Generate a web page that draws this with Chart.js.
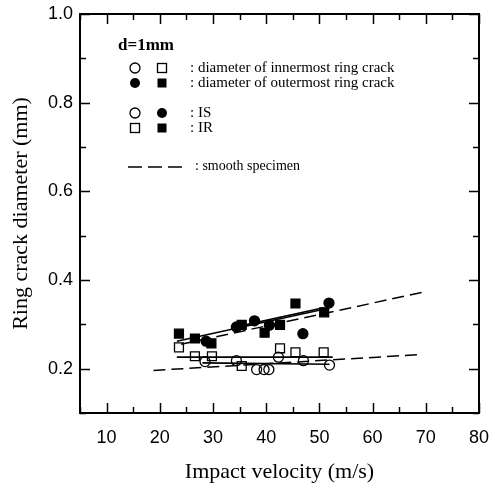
<!DOCTYPE html>
<html>
<head>
<meta charset="utf-8">
<script src="https://cdn.jsdelivr.net/npm/chart.js@4.4.0/dist/chart.umd.min.js"></script>
<style>
  body { margin: 0; background: #fff; }
  #wrap { width: 491px; height: 487px; }
</style>
</head>
<body>
<div id="wrap"><canvas id="ringChart" width="491" height="487"></canvas></div>
<script>
// IS specimen, outermost ring crack (filled circles)
const isOuterV = [28.7, 34.4, 37.8, 40.6, 46.9, 51.8];
const isOuterD = [0.262, 0.294, 0.308, 0.298, 0.279, 0.348];
// IR specimen, outermost ring crack (filled squares)
const irOuterV = [23.6, 26.6, 29.7, 35.4, 39.7, 42.6, 45.5, 50.9];
const irOuterD = [0.279, 0.268, 0.257, 0.299, 0.281, 0.299, 0.347, 0.327];
// IS specimen, innermost ring crack (open circles)
const isInnerV = [28.5, 34.4, 38.2, 39.6, 40.5, 42.3, 47.0, 51.9];
const isInnerD = [0.216, 0.218, 0.198, 0.198, 0.198, 0.226, 0.218, 0.208];
// IR specimen, innermost ring crack (open squares)
const irInnerV = [23.6, 26.6, 29.8, 35.4, 42.6, 45.5, 50.8];
const irInnerD = [0.248, 0.228, 0.228, 0.206, 0.246, 0.237, 0.237];

// fitted lines (end points)
const fitOuterAV = [23.2, 50.8], fitOuterAD = [0.262, 0.334];
const fitOuterBV = [33.5, 51.0], fitOuterBD = [0.292, 0.338];
const fitInnerAV = [23.2, 52.5], fitInnerAD = [0.226, 0.226];
const fitInnerBV = [28.0, 51.9], fitInnerBD = [0.213, 0.210];
// smooth specimen (dashed)
const smoothOuterV = [24.0, 69.3], smoothOuterD = [0.255, 0.372];
const smoothInnerV = [18.8, 69.3], smoothInnerD = [0.196, 0.232];

// axis ticks
const xMajor = [10, 20, 30, 40, 50, 60, 70, 80];
const xMinor = [5, 15, 25, 35, 45, 55, 65, 75];
const yMajor = [0.2, 0.4, 0.6, 0.8, 1.0];
const yMinor = [0.1, 0.3, 0.5, 0.7, 0.9];

const SERIF = "'Liberation Serif', 'Times New Roman', serif";
const SANS = "'Liberation Sans', Arial, sans-serif";

function pts(xs, ys) {
    return xs.map((v, i) => ({ x: v, y: ys[i] }));
}

function markers(xs, ys, style, filled, r) {
    return {
        data: pts(xs, ys),
        showLine: false,
        pointStyle: style,
        pointRadius: r,
        pointBackgroundColor: filled ? '#000' : 'rgba(0,0,0,0)',
        pointBorderColor: '#000',
        pointBorderWidth: 1.3,
        order: 1
    };
}

function line(xs, ys, dashed) {
    return {
        data: pts(xs, ys),
        showLine: true,
        pointRadius: 0,
        borderColor: '#000',
        borderWidth: dashed ? 1.5 : 1.6,
        borderDash: dashed ? [12, 6] : [],
        fill: false,
        order: 2
    };
}

// ---------- frame + inward ticks ----------
const frameTicks = {
    id: 'frameTicks',
    afterDatasetsDraw(chart) {
        const { ctx, chartArea: a, scales: { x, y } } = chart;
        ctx.save();
        ctx.strokeStyle = '#000';
        ctx.lineWidth = 1.5;
        const seg = (x1, y1, x2, y2) => {
            ctx.beginPath(); ctx.moveTo(x1, y1); ctx.lineTo(x2, y2); ctx.stroke();
        };
        const xt = (vals, len) => vals.forEach(v => {
            const px = Math.round(x.getPixelForValue(v)) + 0.5;
            seg(px, a.bottom, px, a.bottom - len);
            seg(px, a.top, px, a.top + len);
        });
        const yt = (vals, len) => vals.forEach(v => {
            const py = Math.round(y.getPixelForValue(v)) + 0.5;
            seg(a.left, py, a.left + len, py);
            seg(a.right, py, a.right - len, py);
        });
        xt(xMajor, 10); xt(xMinor, 6);
        yt(yMajor, 10); yt(yMinor, 6);
        ctx.lineWidth = 2;
        ctx.strokeRect(a.left, a.top, a.right - a.left, a.bottom - a.top);
        ctx.restore();
    }
};

// ---------- key inside the plot ----------
const keyBox = {
    id: 'keyBox',
    afterDraw(chart) {
        const ctx = chart.ctx;
        ctx.save();
        ctx.fillStyle = '#000';
        ctx.strokeStyle = '#000';
        ctx.lineWidth = 1.3;
        ctx.textBaseline = 'middle';

        ctx.font = 'bold 17px ' + SERIF;
        ctx.fillText('d=1mm', 118, 46);

        const circ = (cx, cy, filled) => {
            ctx.beginPath(); ctx.arc(cx, cy, 5, 0, Math.PI * 2);
            filled ? ctx.fill() : ctx.stroke();
        };
        const sq = (cx, cy, filled) => {
            filled ? ctx.fillRect(cx - 4.5, cy - 4.5, 9, 9)
                   : ctx.strokeRect(cx - 4.5, cy - 4.5, 9, 9);
        };

        circ(135, 68, false); sq(162, 68, false);
        circ(135, 83, true);  sq(162, 83, true);
        circ(135, 113, false); circ(162, 113, true);
        sq(135, 128, false);  sq(162, 128, true);

        ctx.lineWidth = 1.5;
        ctx.setLineDash([14, 6]);
        ctx.beginPath(); ctx.moveTo(128, 167); ctx.lineTo(182, 167); ctx.stroke();
        ctx.setLineDash([]);

        ctx.font = '15px ' + SERIF;
        ctx.fillText(': diameter of innermost ring crack', 190, 68);
        ctx.fillText(': diameter of outermost ring crack', 190, 83);
        ctx.fillText(': IS', 190, 113);
        ctx.fillText(': IR', 190, 128);
        ctx.font = '14px ' + SERIF;
        ctx.fillText(': smooth specimen', 195, 166);
        ctx.restore();
    }
};

new Chart(document.getElementById('ringChart'), {
    type: 'scatter',
    data: {
        datasets: [
            line(fitOuterAV, fitOuterAD, false),
            line(fitOuterBV, fitOuterBD, false),
            line(fitInnerAV, fitInnerAD, false),
            line(fitInnerBV, fitInnerBD, false),
            line(smoothOuterV, smoothOuterD, true),
            line(smoothInnerV, smoothInnerD, true),
            markers(isOuterV, isOuterD, 'circle', true, 5),
            markers(irOuterV, irOuterD, 'rect', true, 6.3),
            markers(isInnerV, isInnerD, 'circle', false, 5),
            markers(irInnerV, irInnerD, 'rect', false, 6.3)
        ]
    },
    options: {
        responsive: false,
        animation: false,
        layout: { padding: { left: 0, right: 12, top: 14, bottom: 0 } },
        plugins: { legend: { display: false }, tooltip: { enabled: false } },
        scales: {
            x: {
                type: 'linear',
                min: 5, max: 80,
                afterBuildTicks: s => { s.ticks = xMajor.map(v => ({ value: v })); },
                afterFit: s => { s.height = 74; s.paddingLeft = 0; s.paddingRight = 0; },
                grid: { display: false, drawTicks: false },
                border: { display: false },
                ticks: { padding: 14, color: '#000', font: { family: SANS, size: 18 } },
                title: {
                    display: true,
                    text: 'Impact velocity (m/s)',
                    color: '#000',
                    font: { family: SERIF, size: 22 },
                    padding: { top: 0, bottom: 2 }
                }
            },
            y: {
                type: 'linear',
                min: 0.1, max: 1.0,
                afterBuildTicks: s => { s.ticks = yMajor.map(v => ({ value: v })); },
                afterFit: s => { s.width = 80; s.paddingTop = 0; s.paddingBottom = 0; },
                grid: { display: false, drawTicks: false },
                border: { display: false },
                ticks: {
                    padding: 7, color: '#000',
                    font: { family: SANS, size: 18 },
                    callback: v => v.toFixed(1)
                },
                title: {
                    display: true,
                    text: 'Ring crack diameter (mm)',
                    color: '#000',
                    font: { family: SERIF, size: 22 },
                    padding: { top: 8, bottom: 0 }
                }
            }
        }
    },
    plugins: [frameTicks, keyBox]
});
</script>
</body>
</html>
